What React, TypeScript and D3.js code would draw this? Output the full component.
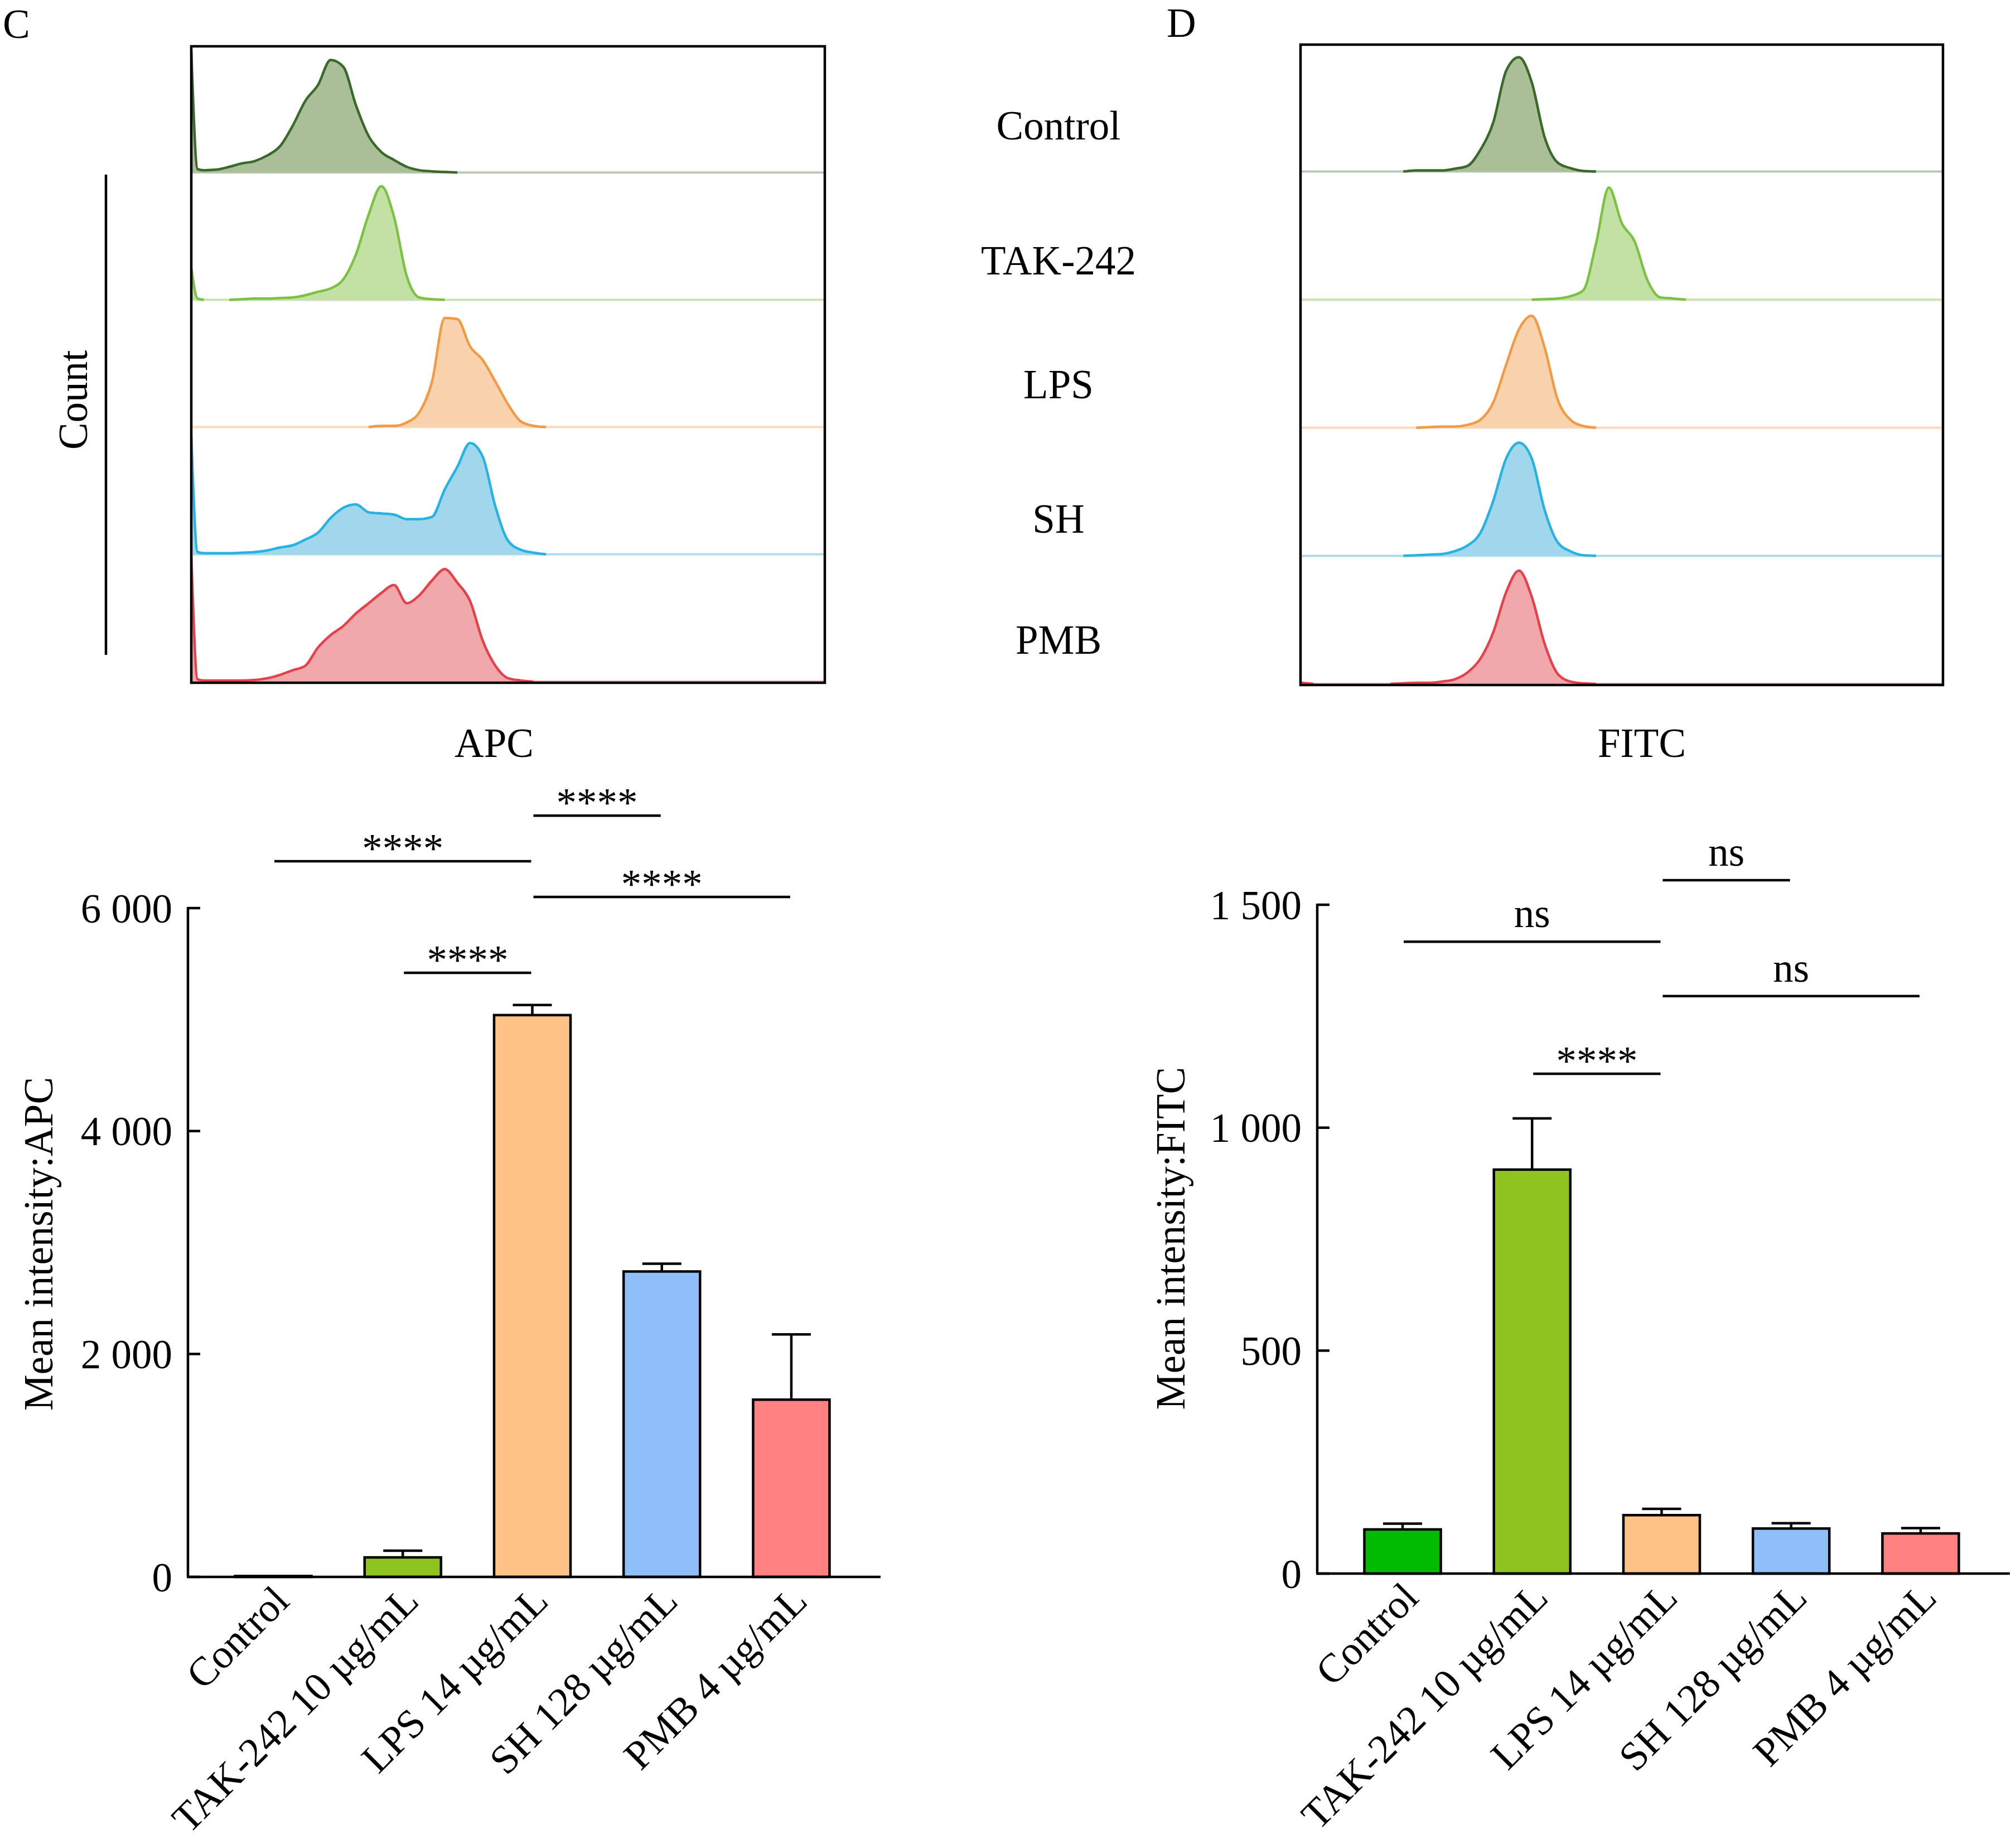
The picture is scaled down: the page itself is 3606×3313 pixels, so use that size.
import React from 'react';
import * as d3 from 'd3';

// bar chart groups
const groups = ['Control', 'TAK-242 10 µg/mL', 'LPS 14 µg/mL', 'SH 128 µg/mL', 'PMB 4 µg/mL'];
const histLabels = ['Control', 'TAK-242', 'LPS', 'SH', 'PMB'];

const apcMean = [8, 175, 5040, 2740, 1590];
const apcErr = [0, 60, 90, 70, 585];
const fitcMean = [99, 906, 131, 101, 90];
const fitcErr = [13, 115, 14, 12, 12];
const apcTicks = [0, 2000, 4000, 6000];
const fitcTicks = [0, 500, 1000, 1500];

// significance brackets: [groupA, groupB, level, label]
const apcSig: [number, number, number, string][] = [
  [2, 3, 6830, '****'],
  [0, 2, 6420, '****'],
  [2, 4, 6100, '****'],
  [1, 2, 5420, '****'],
];
const fitcSig: [number, number, number, string][] = [
  [2, 3, 1555, 'ns'],
  [0, 2, 1417, 'ns'],
  [2, 4, 1295, 'ns'],
  [1, 2, 1121, '****'],
];

const barColors = ['#00bb00', '#8fc31f', '#ffc285', '#8fbff8', '#ff8080'];
const histStroke = ['#3a6a2a', '#7cc242', '#f39a45', '#27b2e5', '#e5414a'];
const histFill = ['#aabf98', '#c3e0a5', '#f9d3ad', '#a1d7ea', '#f1a8aa'];
const histTail = ['#b9cbb0', '#c9e3b2', '#fbd9bd', '#b0dcec', '#f1a8aa'];

// histogram channels (% of axis), counts as % of mode
const channels = [0, 1, 2, 4, 6, 8, 10, 12, 14, 16, 18, 20, 22, 24, 26, 28, 30, 32, 34, 36, 38, 40, 42, 44, 46, 48, 50, 52, 54, 56, 58, 60];

const apcControl = [107, 3, 2, 2.5, 5, 8, 10, 15, 23, 41, 63, 77, 99, 93, 59, 32, 18, 11, 5, 2, 1, 0.5, 0, 0, 0, 0, 0, 0, 0, 0, 0, 0];
const apcTak = [28, 1, 0, 0, 0, 0.5, 1, 1, 1.5, 2, 4, 7, 10, 18, 40, 75, 100, 73, 21, 2, 0.5, 0, 0, 0, 0, 0, 0, 0, 0, 0, 0, 0];
const apcLps = [0, 0, 0, 0, 0, 0, 0, 0, 0, 0, 0, 0, 0, 0, 0, 0, 1, 1, 4, 13, 40, 96, 95, 71, 59, 40, 20, 5, 1, 0, 0, 0];
const apcSh = [104, 2, 1, 1, 1, 1.5, 2, 3.5, 6, 8, 13, 19, 32, 41, 44, 37, 36, 35, 31, 31, 33, 57, 77, 98, 86, 42, 12, 4, 1.5, 0, 0, 0];
const apcPmb = [111, 2, 1, 1, 1, 1, 1.5, 3, 6, 10, 14, 30, 41, 49, 60, 69, 78, 85, 69, 76, 89, 99, 87, 71, 36, 14, 3, 1, 0, 0, 0, 0];

const fitcControl = [0, 0, 0, 0, 0, 0, 0, 0, 0, 0, 1, 1, 1, 2.5, 5, 19, 43, 88, 100, 78, 30, 8, 3, 0.5, 0, 0, 0, 0, 0, 0, 0, 0];
const fitcTak = [0, 0, 0, 0, 0, 0, 0, 0, 0, 0, 0, 0, 0, 0, 0, 0, 0, 0, 0, 0, 0.5, 1, 3, 8, 49, 98, 67, 51, 17, 2, 1, 0];
const fitcLps = [0, 0, 0, 0, 0, 0, 0, 0, 0, 0, 0, 0.5, 1, 1, 2.5, 7, 22, 55, 86, 98, 70, 25, 7, 1.5, 0, 0, 0, 0, 0, 0, 0, 0];
const fitcSh = [0, 0, 0, 0, 0, 0, 0, 0, 0, 0, 0.5, 1, 1.5, 4, 9, 20, 48, 85, 99, 85, 40, 12, 4, 0.5, 0, 0, 0, 0, 0, 0, 0, 0];
const fitcPmb = [1, 0.5, 0, 0, 0, 0, 0, 0, 0, 0.5, 1, 1, 2, 4, 10, 22, 45, 80, 99, 76, 35, 9, 2, 0.5, 0, 0, 0, 0, 0, 0, 0, 0];

const FONT = "'Liberation Serif', 'Times New Roman', serif";
const FS = 73;
const SW = 4.5;

const fmt = d3.formatLocale({ decimal: '.', thousands: ' ', grouping: [3], currency: ['', ''] }).format(',');

interface HistProps {
  x: number; y: number; w: number; h: number;
  series: number[][];
}

const HistPanel: React.FC<HistProps> = ({ x, y, w, h, series }) => {
  const xs = d3.scaleLinear().domain([0, 100]).range([x, x + w]);
  const rowH = h / series.length;
  return (
    <g>
      {series.map((counts, i) => {
        const base = y + (i + 1) * rowH - 2;
        const ys = d3.scaleLinear().domain([0, 112]).range([base, base - rowH]);
        const area = d3.area<number>()
          .x((_, j) => xs(channels[j]))
          .y0(base)
          .y1(d => ys(d))
          .curve(d3.curveMonotoneX);
        const outline = d3.line<number>()
          .defined((d, j) => d > 0 || (counts[j - 1] || 0) > 0 || (counts[j + 1] || 0) > 0)
          .x((_, j) => xs(channels[j]))
          .y(d => ys(d))
          .curve(d3.curveMonotoneX);
        return (
          <g key={`row-${i}`}>
            <line x1={xs(0)} x2={x + w} y1={base} y2={base} stroke={histTail[i]} strokeWidth={4} />
            <path d={area(counts) || ''} fill={histFill[i]} />
            <path d={outline(counts) || ''} fill="none" stroke={histStroke[i]} strokeWidth={4.5} strokeLinejoin="round" />
          </g>
        );
      })}
      <rect x={x} y={y} width={w} height={h} fill="none" stroke="#000" strokeWidth={SW} />
    </g>
  );
};

interface BarProps {
  x0: number; yZero: number; yMax: number; maxVal: number;
  means: number[]; errs: number[]; ticks: number[];
  sig: [number, number, number, string][];
  title: string; titleX: number; titleY: number;
}

const BarPanel: React.FC<BarProps> = ({ x0, yZero, yMax, maxVal, means, errs, ticks, sig, title, titleX, titleY }) => {
  const xb = d3.scaleBand().domain(groups).range([x0, x0 + 1235]).paddingInner(0.41).paddingOuter(0.364);
  const y = d3.scaleLinear().domain([0, maxVal]).range([yZero, yMax]);
  const bw = xb.bandwidth();
  const cx = (i: number) => (xb(groups[i]) as number) + bw / 2;
  return (
    <g fontFamily={FONT} fontSize={FS}>
      {/* bars */}
      {means.map((m, i) => (
        <g key={`bar-${i}`}>
          {errs[i] > 0 && (
            <g stroke="#000" strokeWidth={SW}>
              <line x1={cx(i)} x2={cx(i)} y1={y(m)} y2={y(m + errs[i])} />
              <line x1={cx(i) - 35} x2={cx(i) + 35} y1={y(m + errs[i])} y2={y(m + errs[i])} />
            </g>
          )}
          <rect x={xb(groups[i])} y={y(m)} width={bw} height={yZero - y(m)}
            fill={barColors[i]} stroke="#000" strokeWidth={SW} />
        </g>
      ))}
      {/* axes */}
      <line x1={x0} x2={x0} y1={yMax - 2} y2={yZero} stroke="#000" strokeWidth={SW} />
      <line x1={x0 - 2} x2={x0 + 1242} y1={yZero} y2={yZero} stroke="#000" strokeWidth={SW} />
      {ticks.map(t => (
        <g key={`tick-${t}`}>
          <line x1={x0} x2={x0 + 22} y1={y(t)} y2={y(t)} stroke="#000" strokeWidth={SW} />
          <text x={x0 - 28} y={y(t)} dy="0.35em" textAnchor="end">{fmt(t)}</text>
        </g>
      ))}
      {groups.map((g, i) => (
        <text key={`xl-${i}`} textAnchor="end"
          transform={`translate(${cx(i) + 32},${yZero + 47}) rotate(-45)`}>{g}</text>
      ))}
      <text textAnchor="middle" transform={`translate(${titleX},${titleY}) rotate(-90)`}>{title}</text>
      {/* significance */}
      {sig.map(([a, b, lvl, lab], k) => (
        <g key={`sig-${k}`}>
          <line x1={cx(a) + 2} x2={cx(b) - 2} y1={y(lvl)} y2={y(lvl)} stroke="#000" strokeWidth={SW} />
          <text x={(cx(a) + cx(b)) / 2} y={lab === 'ns' ? y(lvl) - 26 : y(lvl) + 2} textAnchor="middle">{lab}</text>
        </g>
      ))}
    </g>
  );
};

const App: React.FC = () => {
  const labelYs = [250, 492, 714, 955, 1172];
  return (
    <div style={{ position: 'absolute', left: 0, top: 0 }}>
      <svg width={3606} height={3313} viewBox="0 0 3606 3313" style={{ display: 'block', background: '#fff' }}>
        <rect x={0} y={0} width={3606} height={3313} fill="#fff" />
        <g fontFamily={FONT} fontSize={FS}>
          <text x={5} y={68}>C</text>
          <text x={2092} y={66}>D</text>
          <line x1={190} x2={190} y1={313} y2={1174} stroke="#000" strokeWidth={SW} />
          <text textAnchor="middle" transform="translate(156,717) rotate(-90)">Count</text>
          <text x={886} y={1357} textAnchor="middle">APC</text>
          <text x={2944} y={1357} textAnchor="middle">FITC</text>
          {histLabels.map((l, i) => (
            <text key={l} x={1898} y={labelYs[i]} textAnchor="middle">{l}</text>
          ))}
        </g>
        <HistPanel x={343} y={83} w={1136} h={1141}
          series={[apcControl, apcTak, apcLps, apcSh, apcPmb]} />
        <HistPanel x={2332} y={80} w={1152} h={1148}
          series={[fitcControl, fitcTak, fitcLps, fitcSh, fitcPmb]} />
        <BarPanel x0={337} yZero={2827} yMax={1628} maxVal={6000}
          means={apcMean} errs={apcErr} ticks={apcTicks} sig={apcSig}
          title="Mean intensity:APC" titleX={94} titleY={2230} />
        <BarPanel x0={2362} yZero={2821} yMax={1622} maxVal={1500}
          means={fitcMean} errs={fitcErr} ticks={fitcTicks} sig={fitcSig}
          title="Mean intensity:FITC" titleX={2124} titleY={2220} />
      </svg>
    </div>
  );
};

export default App;
